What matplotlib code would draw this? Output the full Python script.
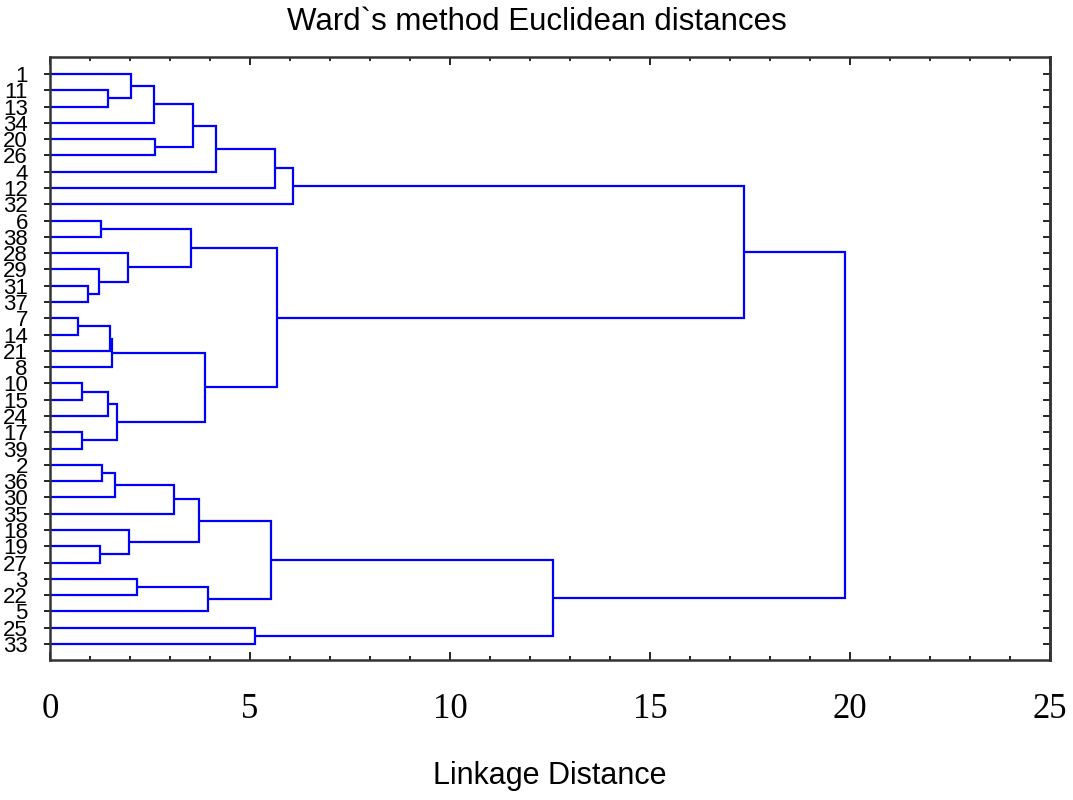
import matplotlib
matplotlib.use("Agg")
import matplotlib.pyplot as plt
from matplotlib.ticker import MultipleLocator

plt.rcParams['font.family'] = ['Liberation Sans', 'DejaVu Sans']

# leaf labels, top to bottom
leaves = ['1', '11', '13', '34', '20', '26', '4', '12', '32',
          '6', '38', '28', '29', '31', '37', '7', '14', '21', '8',
          '10', '15', '24', '17', '39', '2', '36', '30', '35',
          '18', '19', '27', '3', '22', '5', '25', '33']

# merges, linkage style: node id = len(leaves) + row
left = [1, 0, 37, 4, 38, 40, 41, 42,
        9, 13, 12, 11, 44, 15, 49, 50, 19, 52, 22, 53, 51, 48, 43,
        24, 59, 60, 29, 28, 61, 31, 65, 64, 34, 67, 58]
right = [2, 36, 3, 5, 39, 6, 7, 8,
         10, 14, 45, 46, 47, 16, 17, 18, 20, 21, 23, 54, 55, 56, 57,
         25, 26, 27, 30, 62, 63, 32, 33, 66, 35, 68, 69]
height = [1.45, 2.02, 2.60, 2.62, 3.58, 4.15, 5.63, 6.08,
          1.27, 0.95, 1.22, 1.94, 3.52, 0.70, 1.50, 1.55, 0.80, 1.46, 0.80, 1.67, 3.87, 5.67, 17.35,
          1.30, 1.62, 3.10, 1.25, 1.98, 3.72, 2.18, 3.95, 5.52, 5.12, 12.58, 19.87]

fig = plt.figure(figsize=(10.73, 8), dpi=100)
ax = fig.add_axes([50 / 1073, 1 - 660 / 800, 1000 / 1073, 603 / 800])

n = len(leaves)
pos = {i: (0.0, float(i)) for i in range(n)}
for k, (a, b, h) in enumerate(zip(left, right, height)):
    xa, ya = pos[a]
    xb, yb = pos[b]
    ax.plot([xa, h, h, xb], [ya, ya, yb, yb], color='#0000ff', lw=1.6,
            solid_joinstyle='miter', solid_capstyle='butt')
    pos[n + k] = (h, (ya + yb) / 2)

ax.set_xlim(0, 25)
ax.set_ylim(n - 1 + 0.98, -1.04)

ax.set_yticks(range(n))
ax.set_yticklabels(leaves, fontsize=16)
ax.tick_params(axis='y', left=True, right=False, labelleft=True, length=4, width=1.2,
               pad=12, direction='out')
ax2 = ax.secondary_yaxis('right')
ax2.set_yticks(range(n))
ax2.tick_params(direction='in', length=5, width=1.2, labelright=False)

ax.xaxis.set_major_locator(MultipleLocator(5))
ax.xaxis.set_minor_locator(MultipleLocator(1))
ax.tick_params(axis='x', which='major', direction='in', length=6, width=1.2,
               top=True, pad=24)
ax.tick_params(axis='x', which='minor', direction='in', length=3, width=1.2, top=True)
for t in ax.get_xticklabels():
    t.set_fontfamily('Liberation Serif')
    t.set_fontsize(25)

for s in ax.spines.values():
    s.set_linewidth(1.8)
    s.set_color('#333333')
ax2.spines['right'].set_linewidth(1.8)
ax2.spines['right'].set_color('#333333')

fig.text(537 / 1073, 1 - 22 / 800, 'Ward`s method Euclidean distances',
         ha='center', va='center', fontsize=22.5)
fig.text(550 / 1073, 1 - 776 / 800, 'Linkage Distance',
         ha='center', va='center', fontsize=22)

fig.savefig('out.png', dpi=100)
